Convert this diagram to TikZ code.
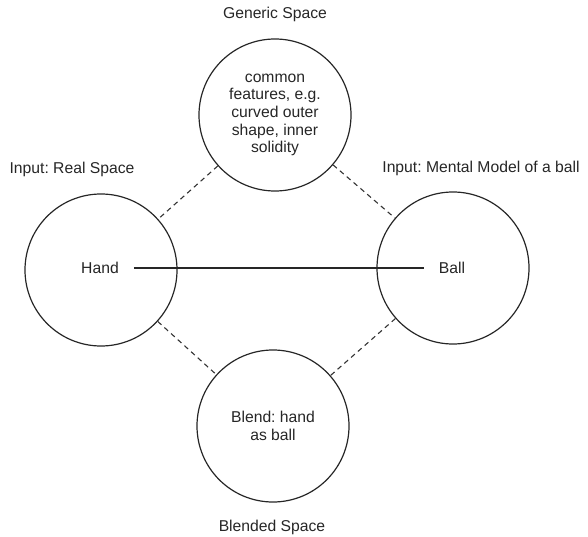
\documentclass[tikz,border=0pt]{standalone}
\usepackage{fontspec}
\setmainfont{Liberation Sans}
\frenchspacing
\begin{document}
\begin{tikzpicture}[x=1pt,y=-1pt,
  every node/.style={text=black!85, font=\fontsize{15.7}{17.7}\selectfont},
  space/.style={circle, draw=black!85, line width=1.2pt, minimum size=152pt, inner sep=0pt, align=center},
  caption/.style={inner sep=0pt},
  label text/.style={inner xsep=15pt, inner ysep=0pt},
  link/.style={draw=black!80, line width=1.1pt, dash pattern=on 5pt off 4pt},
  map/.style={draw=black!85, line width=1.1pt}]
  \useasboundingbox (0,0) rectangle (588,537);

  % the four mental spaces
  \node[space] (generic) at (275,115) {common\\features, e.g.\\curved outer\\shape, inner\\solidity};
  \node[space] (real) at (101,270) {};
  \node[space] (mental) at (453,268) {};
  \node[space] (blend) at (273,426) {Blend: hand\\as ball};

  % space titles
  \node[caption] (tgeneric) at (275,14) {Generic Space};
  \node[caption] (treal) at (72,169) {Input: Real Space};
  \node[caption] (tmental) at (481,168) {Input: Mental Model of a ball};
  \node[caption] (tblend) at (272,527) {Blended Space};

  % elements of the input spaces
  \node[label text] (hand) at (100,268) {Hand};
  \node[label text] (ball) at (452,268) {Ball};

  % cross-space mapping
  \draw[map] (hand.east) -- (ball.west);

  % projections between spaces
  \draw[link] (generic) -- (real);
  \draw[link] (generic) -- (mental);
  \draw[link] (real) -- (blend);
  \draw[link] (mental) -- (blend);
\end{tikzpicture}
\end{document}
